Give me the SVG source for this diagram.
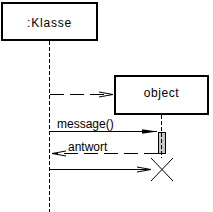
<svg xmlns="http://www.w3.org/2000/svg" width="213" height="212" viewBox="0 0 213 212">
<style>
.box{fill:#fff;stroke:#000;stroke-width:2}
.life{stroke:#000;stroke-width:1;stroke-dasharray:4,2;fill:none}
.msg{stroke:#000;stroke-width:1;fill:none}
.dash{stroke-dasharray:14,6}
.head{stroke:#000;stroke-width:1;fill:none}
text{font-family:"Liberation Sans",Arial,sans-serif;font-size:12px;fill:#000}
</style>
<rect width="213" height="212" fill="#fff"/>
<g id="klasse">
<rect class="box" x="2" y="3" width="95" height="37"/>
<text x="49.5" y="27" text-anchor="middle" letter-spacing="0.8">:Klasse</text>
<line class="life" x1="49.5" y1="41" x2="49.5" y2="212"/>
</g>
<g id="object">
<rect class="box" x="115" y="76" width="93" height="38"/>
<text x="161.5" y="97" text-anchor="middle" letter-spacing="0.6">object</text>
<line class="life" x1="161.5" y1="115" x2="161.5" y2="158"/>
<rect x="158.5" y="132.5" width="7" height="21" fill="#c8c8c8" stroke="#000" stroke-width="1"/>
<line class="life" x1="161.5" y1="133" x2="161.5" y2="153"/>
<path d="M151,158 L173,181 M173,158 L151,181" stroke="#000" stroke-width="1" fill="none"/>
</g>
<g id="connectors">
<line class="msg dash" x1="50" y1="94.5" x2="113" y2="94.5"/>
<path class="head" d="M99,92 L113,94.5 L99,97"/>
<line class="msg" x1="50" y1="131.5" x2="157" y2="131.5"/>
<path d="M157,131.5 L142,129.3 L142,133.7 Z" fill="#000"/>
<text x="57" y="128">message()</text>
<line class="msg dash" x1="158" y1="153.5" x2="52" y2="153.5"/>
<path class="head" d="M66,151 L52,153.5 L66,156"/>
<text x="68" y="151">antwort</text>
<line class="msg" x1="50" y1="169.5" x2="151" y2="169.5"/>
<path class="head" d="M137,167 L151,169.5 L137,172"/>
</g>
</svg>
